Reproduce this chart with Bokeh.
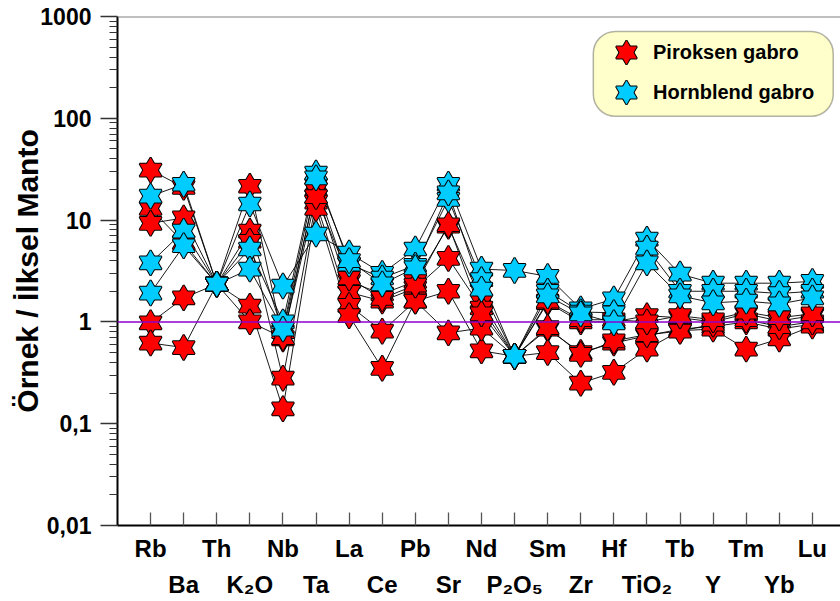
from bokeh.plotting import figure
from bokeh.models import (Range1d, FixedTicker, LinearAxis, Span, BoxAnnotation,
                          Legend, LegendItem, CustomJSTickFormatter)
from bokeh.embed import file_html
from bokeh.resources import INLINE

# Primitive-mantle normalised spider diagram
elements = ["Rb", "Ba", "Th", "K₂O", "Nb", "Ta", "La", "Ce", "Pb", "Sr", "Nd",
            "P₂O₅", "Sm", "Zr", "Hf", "TiO₂", "Tb", "Y", "Tm", "Yb", "Lu"]

# Piroksen gabro samples
piroksen_1 = [31, 21, 2.35, 21.5, 0.68, 22, 2.5, 1.88, 2.5, 8.7, 1.6, 0.46, 1.55, 1.0, 1.0, 1.15, 1.1, 1.0, 1.2, 1.02, 1.15]
piroksen_2 = [13, 6.0, 2.35, 7.8, 0.8, 20, 1.95, 1.6, 2.15, 4.2, 1.37, 0.46, 0.85, 0.5, 0.62, 0.73, 0.85, 0.9, 1.0, 0.85, 0.95]
piroksen_3 = [9.3, 10.5, 2.35, 6.2, 0.28, 15, 1.45, 0.81, 1.6, 2.0, 0.52, 0.46, 0.5, 0.25, 0.32, 0.54, 0.82, 0.85, 0.54, 0.68, 0.91]
piroksen_4 = [0.98, 1.72, 2.35, 1.43, 0.14, 13, 1.15, 0.35, 1.6, 0.78, 0.87, 0.46, 0.88, 0.48, 0.65, 0.75, 0.81, 0.95, 1.05, 0.9, 1.0]
piroksen_5 = [0.62, 0.56, 2.35, 1.0, 0.7, 17, 2.7, 1.7, 2.3, 9.0, 1.2, 0.46, 1.6, 1.05, 1.05, 1.0, 1.15, 1.05, 1.25, 1.1, 1.2]

# Hornblend gabro samples
hornblend_1 = [17.2, 22.5, 2.35, 14.4, 2.25, 7.3, 4.75, 3.0, 5.2, 22.5, 3.3, 3.2, 2.8, 1.34, 1.68, 6.5, 2.95, 2.4, 2.4, 2.4, 2.5]
hornblend_2 = [3.8, 7.8, 2.35, 5.2, 1.0, 29, 3.7, 2.7, 3.6, 16, 2.6, 0.46, 2.0, 1.25, 1.23, 5.3, 2.0, 2.0, 2.0, 1.9, 2.0]
hornblend_3 = [1.92, 5.6, 2.35, 3.3, 0.85, 26, 4.0, 2.36, 3.4, 18.5, 2.1, 0.46, 1.8, 1.2, 0.98, 3.8, 1.8, 1.54, 1.6, 1.5, 1.72]

piroksen = [piroksen_1, piroksen_2, piroksen_3, piroksen_4, piroksen_5]
hornblend = [hornblend_1, hornblend_2, hornblend_3]

RED = "#FF0000"
CYAN = "#00CCFF"
FONT = "Liberation Sans"

xs = list(range(len(elements)))

p = figure(width=840, height=601, output_backend="svg", toolbar_location=None,
           x_range=Range1d(-1, 20.85), y_range=Range1d(0.01, 1000),
           y_axis_type="log", min_border_left=117, min_border_right=0,
           min_border_top=16, min_border_bottom=76)
p.outline_line_color = None
p.xgrid.visible = False
p.ygrid.visible = False
p.background_fill_color = "white"
p.border_fill_color = "white"

# frame top edge and the unit reference line
p.add_layout(Span(location=1000, dimension="width", line_color="#808080", line_width=2))
p.add_layout(Span(location=1, dimension="width", line_color="#8E00CC", line_width=1.5))

# connecting lines under the markers
for s in piroksen + hornblend:
    p.line(xs, s, line_color="black", line_width=0.9)


def hexagram(values, color, size=22):
    """Six-pointed star built from two triangles: outlines first, fills on top."""
    rs = []
    for m in ("triangle", "inverted_triangle"):
        rs.append(p.scatter(xs, values, marker=m, size=size, fill_color=color,
                            line_color="black", line_width=2))
    for m in ("triangle", "inverted_triangle"):
        rs.append(p.scatter(xs, values, marker=m, size=size, fill_color=color,
                            line_color=None))
    return rs


red_rs = [hexagram(s, RED) for s in piroksen]
cyan_rs = [hexagram(s, CYAN) for s in hornblend]

# y axis
yax = p.yaxis[0]
major = [0.01, 0.1, 1, 10, 100, 1000]
minor = [k * m for m in major[:-1] for k in range(2, 10)]
yax.ticker = FixedTicker(ticks=major, minor_ticks=minor)
yax.formatter = CustomJSTickFormatter(
    code="return Number(tick.toPrecision(3)).toString().replace('.', ',');")
yax.axis_line_color = "black"
yax.axis_line_width = 2
yax.major_tick_out = 17
yax.major_tick_in = 0
yax.minor_tick_out = 8
yax.minor_tick_in = 0
yax.major_tick_line_color = "#333333"
yax.major_tick_line_width = 1.5
yax.minor_tick_line_color = "#333333"
yax.minor_tick_line_width = 1.2
yax.major_label_standoff = 9
yax.major_label_text_font = FONT
yax.major_label_text_font_style = "bold"
yax.major_label_text_font_size = "23px"
yax.major_label_text_color = "black"
yax.axis_label = "Örnek / İlksel Manto"
yax.axis_label_text_font = FONT
yax.axis_label_text_font_style = "bold"
yax.axis_label_text_font_size = "30px"
yax.axis_label_text_color = "black"
yax.axis_label_standoff = -7

# x axis, first label row with ticks at every element
evens = [i for i in xs if i % 2 == 0]
odds = [i for i in xs if i % 2 == 1]
xax = p.xaxis[0]
xax.ticker = FixedTicker(ticks=evens, minor_ticks=odds)
xax.major_label_overrides = {i: elements[i] for i in evens}
xax.axis_line_color = "black"
xax.axis_line_width = 2
xax.major_tick_in = 13
xax.major_tick_out = 0
xax.minor_tick_in = 13
xax.minor_tick_out = 0
xax.major_tick_line_color = "#555555"
xax.minor_tick_line_color = "#555555"
xax.major_tick_line_width = 1.3
xax.minor_tick_line_width = 1.3
xax.major_label_standoff = 9
xax.major_label_text_font = FONT
xax.major_label_text_font_style = "bold"
xax.major_label_text_font_size = "24px"
xax.major_label_text_color = "black"

# second label row
xax2 = LinearAxis(ticker=FixedTicker(ticks=odds),
                  major_label_overrides={i: elements[i] for i in odds})
xax2.axis_line_color = None
xax2.major_tick_line_color = None
xax2.minor_tick_line_color = None
xax2.major_label_standoff = 0
xax2.major_label_text_font = FONT
xax2.major_label_text_font_style = "bold"
xax2.major_label_text_font_size = "24px"
xax2.major_label_text_color = "black"
p.add_layout(xax2, "below")

# legend panel
box = BoxAnnotation(left=13.38, right=20.63, bottom=104.6, top=713,
                    fill_color="#FFFFCC", fill_alpha=1.0,
                    line_color="black", line_width=1.5, border_radius=22)
p.add_layout(box)

legend_style = dict(orientation="vertical", background_fill_alpha=0, border_line_alpha=0,
                    glyph_width=52, glyph_height=52, spacing=0,
                    padding=0, margin=0, label_standoff=1,
                    label_text_font=FONT, label_text_font_style="bold",
                    label_text_font_size="20px", label_text_color="black")
legend_red = Legend(items=[LegendItem(label="Piroksen gabro", renderers=red_rs[0])],
                    location=(483, 447), **legend_style)
legend_cyan = Legend(items=[LegendItem(label="Hornblend gabro", renderers=cyan_rs[0])],
                     location=(483, 407), **legend_style)
p.add_layout(legend_red, "center")
p.add_layout(legend_cyan, "center")

open("out.html", "w").write(file_html(p, INLINE))
